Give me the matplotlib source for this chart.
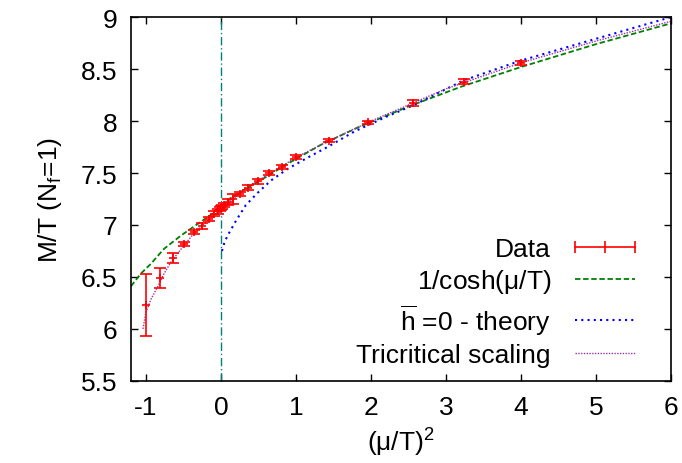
import numpy as np
import matplotlib
matplotlib.use('Agg')
from matplotlib import pyplot as plt
from matplotlib.lines import Line2D

plt.rcParams['font.family'] = ['Liberation Sans', 'DejaVu Sans']
plt.rcParams['mathtext.fontset'] = 'custom'
plt.rcParams['mathtext.rm'] = 'Liberation Sans'
plt.rcParams['mathtext.it'] = 'Liberation Sans'

# data points: (mu/T)^2, M/T, error
mu2 = [-1.0, -0.81, -0.64, -0.49, -0.36, -0.25, -0.16, -0.09, -0.04, -0.01,
       0.0, 0.01, 0.04, 0.09, 0.16, 0.25, 0.36, 0.49, 0.64, 0.81,
       1.0, 1.44, 1.96, 2.56, 3.24, 4.0]
mt = [6.23, 6.49, 6.68, 6.82, 6.93, 6.99, 7.06, 7.11, 7.13, 7.15,
      7.16, 7.17, 7.19, 7.22, 7.25, 7.30, 7.36, 7.42, 7.50, 7.56,
      7.65, 7.81, 7.99, 8.17, 8.38, 8.56]
err = [0.30, 0.095, 0.05, 0.02, 0.02, 0.03, 0.02, 0.02, 0.02, 0.02,
       0.02, 0.02, 0.02, 0.03, 0.05, 0.02, 0.02, 0.025, 0.02, 0.02,
       0.02, 0.015, 0.015, 0.03, 0.025, 0.02]

cosh_x = [-1.2, -1.07, -0.93, -0.76, -0.53, -0.31, -0.13, 0.0, 0.13, 0.36,
          0.62, 0.89, 1.33, 1.8, 2.5, 3.2, 4.0, 5.0, 6.0]
cosh_y = [6.41, 6.53, 6.63, 6.77, 6.90, 7.01, 7.10, 7.15, 7.26, 7.36,
          7.47, 7.59, 7.77, 7.93, 8.14, 8.33, 8.52, 8.74, 8.94]

# hbar=0 theory curve
th_x = [0.013, 0.05, 0.09, 0.2, 0.33, 0.49, 0.67, 0.89, 1.16, 1.42,
        1.78, 2.2, 2.56, 3.23, 3.99, 4.61, 5.28, 6.0]
th_y = [6.75, 6.84, 6.90, 7.04, 7.19, 7.31, 7.43, 7.54, 7.65, 7.75,
        7.90, 8.04, 8.15, 8.39, 8.58, 8.71, 8.85, 9.0]

# tricritical scaling curve
tc_x = [-1.04, -1.0, -0.93, -0.84, -0.76, -0.67, -0.53, -0.36, -0.18, 0.0,
        0.16, 0.36, 0.62, 1.0, 1.44, 2.0, 3.0, 4.0, 5.0, 6.0]
tc_y = [6.0, 6.16, 6.29, 6.41, 6.53, 6.64, 6.77, 6.92, 7.04, 7.15,
        7.25, 7.37, 7.48, 7.65, 7.81, 8.0, 8.31, 8.56, 8.77, 8.96]

xticks = [-1, 0, 1, 2, 3, 4, 5, 6]
yticks = [5.5, 6, 6.5, 7, 7.5, 8, 8.5, 9]

FS = 19

fig = plt.figure(figsize=(6.82, 4.64), dpi=100)
ax = fig.add_axes([0.192, 0.177, 0.792, 0.784])

ax.axvline(0, color='#008080', lw=1.0, ls=(0, (6, 2, 1, 2)))
ax.plot(cosh_x, cosh_y, color='#008000', lw=1.3, ls=(0, (3, 1.5)))
ax.plot(th_x, th_y, color='#0000ff', lw=1.5, ls=(0, (1, 2)))
ax.plot(tc_x, tc_y, color='#9b30a8', lw=1.0, ls=(0, (1, 1)))
ax.errorbar(mu2, mt, yerr=err, fmt='+', color='red', ms=6, mew=1.2,
            elinewidth=1.2, capsize=4, capthick=1.2)

ax.set_xlim(-1.2, 6)
ax.set_ylim(5.5, 9)
ax.set_xticks(xticks)
ax.set_xticklabels([str(t) for t in xticks])
ax.set_yticks(yticks)
ax.set_yticklabels([('%g' % t) for t in yticks])
ax.tick_params(direction='in', length=5, width=1, labelsize=FS, pad=10,
               top=True, right=True)
for s in ax.spines.values():
    s.set_linewidth(1.2)

ax.set_xlabel(r'($\mathrm{\mu}$/T)$^2$', fontsize=FS, labelpad=5)
ax.set_ylabel(r'M/T (N$_\mathrm{f}$=1)', fontsize=FS, labelpad=12)

handles = [Line2D([0], [0], color='red', lw=1.2, marker='|', ms=8, mew=1.2),
           Line2D([0], [0], color='#008000', lw=1.3, ls=(0, (3, 1.5))),
           Line2D([0], [0], color='#0000ff', lw=1.5, ls=(0, (1, 2))),
           Line2D([0], [0], color='#9b30a8', lw=1.0, ls=(0, (1, 1)))]
labels = ['Data', r'1/cosh($\mathrm{\mu}$/T)', r'$\overline{\mathrm{h}}$ =0 - theory',
          'Tricritical scaling']
ax.legend(handles, labels, loc='upper right', bbox_to_anchor=(0.968, 0.425),
          frameon=False, markerfirst=False, fontsize=FS, numpoints=3,
          handlelength=2.9, handletextpad=0.6, labelspacing=0.25,
          borderaxespad=0)

fig.savefig('out.png', dpi=100)
